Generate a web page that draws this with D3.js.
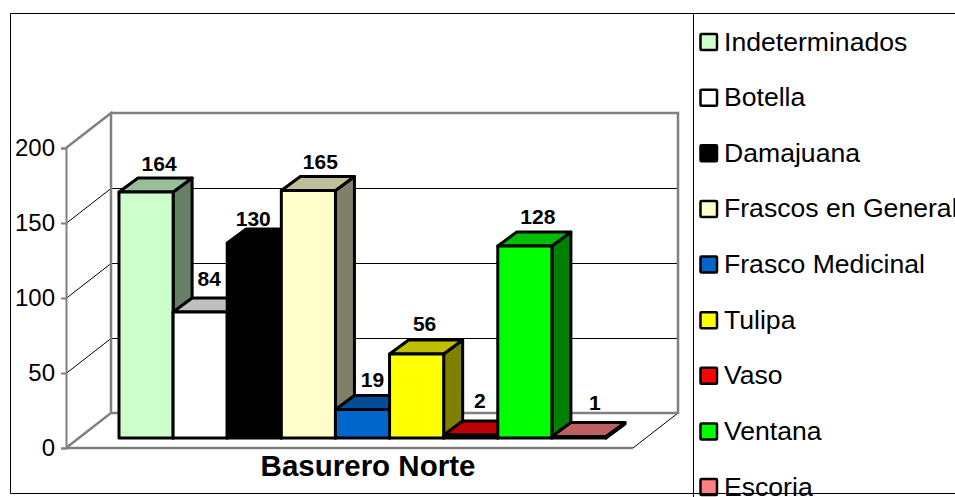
<!DOCTYPE html>
<html><head><meta charset="utf-8">
<script src="https://cdn.jsdelivr.net/npm/d3@7/dist/d3.min.js"></script>
<style>html,body{margin:0;padding:0;background:#fff;overflow:hidden}svg{display:block;font-family:"Liberation Sans",Arial,sans-serif}</style>
</head><body><svg id="c" width="955" height="497"></svg>
<script>
const categories = ["Indeterminados","Botella","Damajuana","Frascos en General","Frasco Medicinal","Tulipa","Vaso","Ventana","Escoria"];
const values = [164,84,130,165,19,56,2,128,1];
const colors = ["#CCFFCC","#FFFFFF","#000000","#FFFFCC","#0066CC","#FFFF00","#FF0000","#00FF00","#FF8080"];
const axisTicks = [0,50,100,150,200];
const categoryLabel = "Basurero Norte";
// layout tweaks for data labels (dx from bar front centre, dy above bar front top)
const labelNudgeX = [13,9,-1,12,10,8,9,13,16];
const labelNudgeY = [21,26,17,22,23,23,27,22,27];

const svg = d3.select("#c");
const depth = {x:45,y:-35}, barDepth = {x:19,y:-14};
const axisY = d3.scaleLinear().domain([0,200]).range([448,148]);
const barY = d3.scaleLinear().domain([0,200]).range([438,138]);
const x = d3.scaleBand().domain(categories).range([119,606]);
const axisLeft = 66, floorRight = 633;
const line = d3.line();
const shade = (c,k)=>{const r=d3.rgb(c);return d3.rgb(r.r*k,r.g*k,r.b*k).formatHex();};

// wall and floor
const walls = svg.append("g").attr("fill","none");
axisTicks.slice(1,-1).forEach(t=>{
  const y=axisY(t)+.5;
  walls.append("path").attr("d",line([[axisLeft,y],[axisLeft+depth.x,y+depth.y],[floorRight+depth.x,y+depth.y]])).attr("stroke","#000").attr("stroke-width",1);
});
walls.append("path").attr("d",line([[floorRight,axisY(0)],[floorRight+depth.x,axisY(0)+depth.y]])).attr("stroke","#000").attr("stroke-width",1);
walls.append("path").attr("d",line([[axisLeft,axisY(200)],[axisLeft+depth.x,axisY(200)+depth.y],[axisLeft+depth.x,axisY(0)+depth.y],[axisLeft,axisY(0)]])).attr("stroke","#808080").attr("stroke-width",2.5);
walls.append("path").attr("d",line([[axisLeft+depth.x,axisY(200)+depth.y],[floorRight+depth.x,axisY(200)+depth.y],[floorRight+depth.x,axisY(0)+depth.y],[axisLeft+depth.x,axisY(0)+depth.y]])).attr("stroke","#808080").attr("stroke-width",2.5);
walls.append("path").attr("d",line([[axisLeft,axisY(0)],[floorRight,axisY(0)]])).attr("stroke","#808080").attr("stroke-width",2.5);

// y axis
const ax = svg.append("g").attr("transform",`translate(${axisLeft},0)`)
  .call(d3.axisLeft(axisY).tickValues(axisTicks).tickSize(5).tickPadding(6));
ax.selectAll("path,line").attr("stroke","#808080").attr("stroke-width",2);
ax.selectAll("text").attr("font-size",24).attr("font-family","inherit").attr("fill","#000");

// bars
const bars = svg.append("g").attr("stroke","#000").attr("stroke-width",3).attr("stroke-linejoin","round");
categories.forEach((c,i)=>{
  const x0=x(c), x1=x0+x.bandwidth(), y0=barY(0), y1=barY(values[i]), dx=barDepth.x, dy=barDepth.y;
  bars.append("path").attr("d",line([[x1,y1],[x1+dx,y1+dy],[x1+dx,y0+dy],[x1,y0]])+"Z").attr("fill",shade(colors[i],.5));
  bars.append("path").attr("d",line([[x0,y1],[x0+dx,y1+dy],[x1+dx,y1+dy],[x1,y1]])+"Z").attr("fill",shade(colors[i],.75));
  bars.append("path").attr("d",line([[x0,y1],[x1,y1],[x1,y0],[x0,y0]])+"Z").attr("fill",colors[i]);
});

// data labels
svg.append("g").selectAll("text").data(values).join("text")
  .attr("x",(d,i)=>x(categories[i])+x.bandwidth()/2+labelNudgeX[i])
  .attr("y",(d,i)=>barY(d)-labelNudgeY[i])
  .attr("text-anchor","middle").attr("font-size",21).attr("font-weight","bold").text(d=>d);

svg.append("text").attr("x",368).attr("y",476).attr("text-anchor","middle").attr("font-size",29.5).attr("font-weight","bold").text(categoryLabel);

// legend
const legY = d3.scalePoint().domain(categories).range([42,487]);
const leg = svg.append("g").selectAll("g").data(categories).join("g").attr("transform",d=>`translate(0,${legY(d)})`);
leg.append("rect").attr("x",700.5).attr("y",-8).attr("width",16.5).attr("height",16).attr("rx",1).attr("fill",(d,i)=>colors[i]).attr("stroke","#000").attr("stroke-width",2.5);
leg.append("text").attr("x",724).attr("y",8.5).attr("font-size",26.6).attr("fill","#000").text(d=>d);

// frame
svg.append("path").attr("fill","none").attr("stroke","#000").attr("stroke-width",1)
  .attr("d",line([[955,13.5],[10.5,13.5],[10.5,493.5],[955,493.5]]));
svg.append("path").attr("fill","none").attr("stroke","#000").attr("stroke-width",1)
  .attr("d",line([[693.5,13.5],[693.5,497]]));
</script></body></html>
